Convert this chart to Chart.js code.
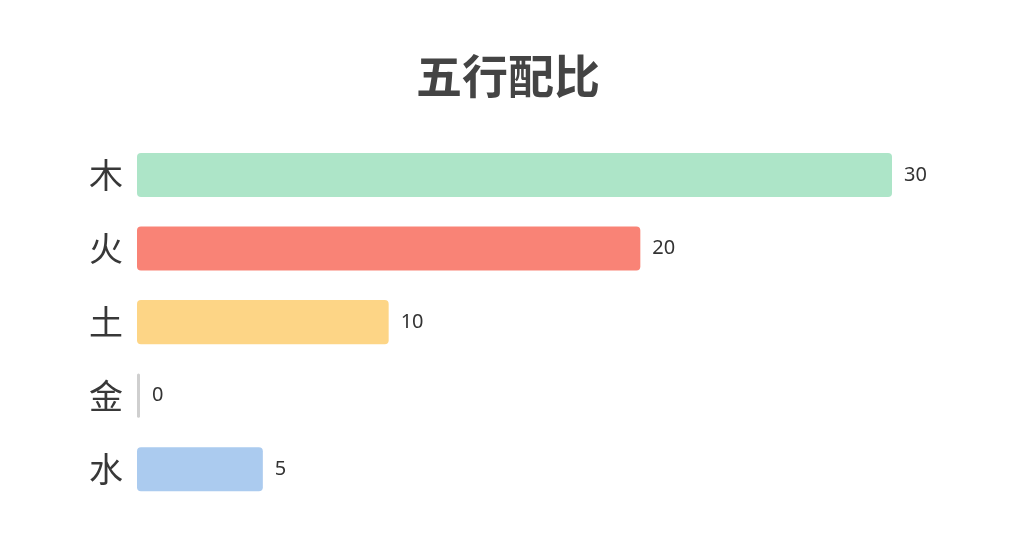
<!DOCTYPE html>
<html>
<head>
<meta charset="utf-8">
<script src="https://cdn.jsdelivr.net/npm/chart.js@4"></script>
<style>
html,body{margin:0;padding:0;background:#fff;}
#wrap{width:1016px;height:559px;}
</style>
</head>
<body>
<div id="wrap"><canvas id="c"></canvas></div>
<script>
const titleText = '五行配比';
const categories = ['木', '火', '土', '金', '水'];
const values = [30, 20, 10, 0, 5];
const barColors = ['#ADE5C8', '#F98376', '#FDD586', '#CFCFCF', '#ABCBEF'];

const valueLabels = {
  id: 'valueLabels',
  afterDatasetsDraw(chart) {
    const ctx = chart.ctx;
    const meta = chart.getDatasetMeta(0);
    ctx.save();
    ctx.font = '20px "Noto Sans", "Noto Sans CJK SC", sans-serif';
    ctx.fillStyle = '#333333';
    ctx.textAlign = 'left';
    ctx.textBaseline = 'middle';
    meta.data.forEach((bar, i) => {
      ctx.fillText(String(values[i]), bar.x + 12, bar.y);
    });
    ctx.restore();
  }
};

// center the title on the full canvas width
const centerTitle = {
  id: 'centerTitle',
  afterLayout(chart) {
    const t = chart.titleBlock;
    if (t) { t.left = 0; t.right = chart.width; t.width = chart.width; }
  }
};

new Chart(document.getElementById('c'), {
  type: 'bar',
  data: {
    labels: categories,
    datasets: [{
      data: values,
      backgroundColor: barColors,
      borderRadius: 4,
      borderSkipped: false,
      minBarLength: 3,
      barPercentage: 0.6,
      categoryPercentage: 1.0
    }]
  },
  options: {
    indexAxis: 'y',
    responsive: true,
    maintainAspectRatio: false,
    animation: false,
    layout: { padding: { top: 0, left: 83, right: 124, bottom: 53 } },
    plugins: {
      legend: { display: false },
      tooltip: { enabled: false },
      title: {
        display: true,
        text: titleText,
        color: '#444444',
        font: { size: 46, weight: 'bold', family: '"Noto Sans CJK SC", sans-serif', lineHeight: 1.2 },
        padding: { top: 48, bottom: 35 }
      }
    },
    scales: {
      x: { display: false, min: 0, max: 30 },
      y: {
        grid: { display: false },
        border: { display: false },
        ticks: {
          color: '#383838',
          padding: 6,
          font: { size: 34, family: '"Noto Sans CJK SC", sans-serif' }
        }
      }
    }
  },
  plugins: [valueLabels, centerTitle]
});
</script>
</body>
</html>
